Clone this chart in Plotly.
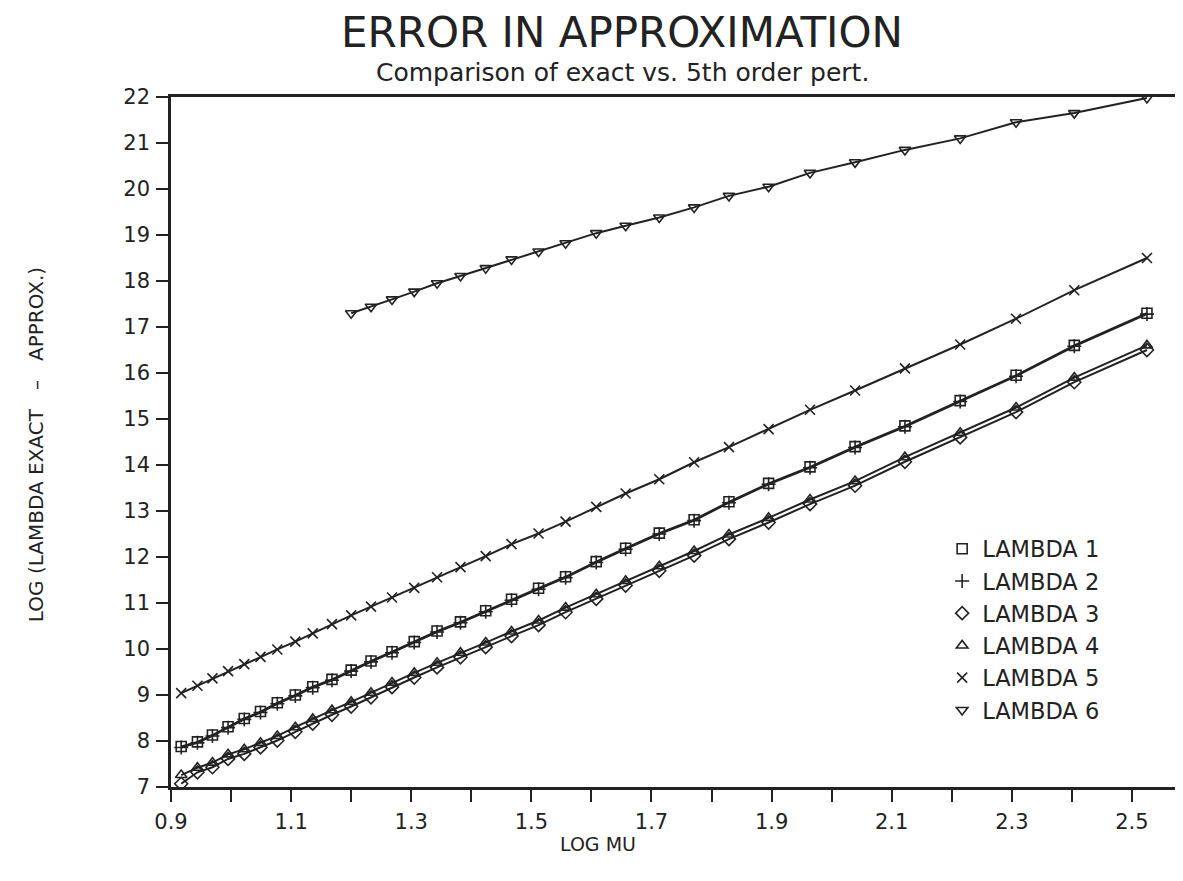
import plotly.graph_objects as go

# ---- data ----
log_mu = [0.917, 0.944, 0.969, 0.995, 1.022, 1.049, 1.077, 1.107, 1.136, 1.168,
          1.200, 1.233, 1.268, 1.305, 1.343, 1.382, 1.424, 1.467, 1.512, 1.557,
          1.608, 1.657, 1.713, 1.771, 1.829, 1.895, 1.964, 2.039, 2.122, 2.214,
          2.307, 2.404, 2.525]

lambda1 = [7.88, 7.98, 8.13, 8.31, 8.49, 8.64, 8.83, 9.00, 9.18, 9.34,
           9.54, 9.74, 9.94, 10.16, 10.39, 10.59, 10.83, 11.08, 11.32, 11.57,
           11.90, 12.19, 12.52, 12.81, 13.20, 13.60, 13.96, 14.40, 14.85, 15.40,
           15.95, 16.60, 17.30]

lambda2 = [7.86, 7.96, 8.11, 8.29, 8.47, 8.62, 8.81, 8.98, 9.16, 9.32,
           9.52, 9.72, 9.92, 10.14, 10.37, 10.57, 10.81, 11.06, 11.30, 11.55,
           11.88, 12.17, 12.50, 12.79, 13.18, 13.58, 13.94, 14.38, 14.83, 15.38,
           15.93, 16.58, 17.28]

lambda3 = [7.07, 7.32, 7.43, 7.61, 7.72, 7.86, 8.01, 8.20, 8.38, 8.57,
           8.75, 8.95, 9.17, 9.38, 9.60, 9.82, 10.04, 10.28, 10.52, 10.80,
           11.09, 11.38, 11.70, 12.03, 12.39, 12.75, 13.15, 13.55, 14.07, 14.60,
           15.15, 15.80, 16.50]

lambda4 = [7.26, 7.42, 7.53, 7.71, 7.82, 7.96, 8.11, 8.30, 8.48, 8.67,
           8.85, 9.05, 9.27, 9.48, 9.70, 9.92, 10.14, 10.38, 10.62, 10.90,
           11.19, 11.48, 11.80, 12.13, 12.49, 12.85, 13.25, 13.65, 14.17, 14.70,
           15.25, 15.90, 16.60]

lambda5 = [9.04, 9.20, 9.36, 9.52, 9.67, 9.83, 9.99, 10.16, 10.34, 10.54,
           10.73, 10.92, 11.12, 11.33, 11.56, 11.78, 12.02, 12.28, 12.51, 12.77,
           13.09, 13.38, 13.69, 14.06, 14.39, 14.78, 15.20, 15.62, 16.10, 16.62,
           17.18, 17.80, 18.50]

log_mu6 = [1.200, 1.233, 1.268, 1.305, 1.343, 1.382, 1.424, 1.467, 1.512, 1.557,
           1.608, 1.657, 1.713, 1.771, 1.829, 1.895, 1.964, 2.039, 2.122, 2.214,
           2.307, 2.404, 2.525]
lambda6 = [17.30, 17.44, 17.60, 17.77, 17.95, 18.11, 18.28, 18.47, 18.64, 18.82,
           19.04, 19.20, 19.38, 19.60, 19.85, 20.05, 20.35, 20.58, 20.85, 21.10,
           21.45, 21.65, 21.98]

series_names = ["LAMBDA 1", "LAMBDA 2", "LAMBDA 3", "LAMBDA 4", "LAMBDA 5", "LAMBDA 6"]
series_x = [log_mu, log_mu, log_mu, log_mu, log_mu, log_mu6]
series_y = [lambda1, lambda2, lambda3, lambda4, lambda5, lambda6]
symbols = ["square-open", "cross-thin-open", "diamond-open", "triangle-up-open",
           "x-thin-open", "triangle-down-open"]

x_ticks = [0.9, 1.1, 1.3, 1.5, 1.7, 1.9, 2.1, 2.3, 2.5]
y_ticks = list(range(7, 23))

FONT = "DejaVu Sans"
INK = "#222222"
NB = "\u00a0"

fig = go.Figure()

# connecting lines (no legend entries)
for xs, ys in zip(series_x, series_y):
    fig.add_trace(go.Scatter(x=xs, y=ys, mode="lines",
                             line=dict(color=INK, width=2),
                             showlegend=False, hoverinfo="skip"))

# markers (legend entries show symbol only)
for name, xs, ys, sym in zip(series_names, series_x, series_y, symbols):
    fig.add_trace(go.Scatter(x=xs, y=ys, mode="markers", name=name,
                             marker=dict(symbol=sym, size=10, color=INK,
                                         line=dict(color=INK, width=1.6))))

fig.update_layout(
    width=1175, height=873,
    margin=dict(l=163, r=0, t=89, b=94),
    paper_bgcolor="white", plot_bgcolor="white",
    font=dict(family=FONT, color=INK),
    showlegend=True,
    legend=dict(x=0.762, y=0.376, xanchor="left", yanchor="top",
                font=dict(family=FONT, size=22.5, color=INK),
                bgcolor="rgba(0,0,0,0)", borderwidth=0,
                tracegroupgap=0, itemwidth=30),
    xaxis=dict(range=[0.9, 2.585], tickmode="array", tickvals=x_ticks,
               ticktext=[f"{v:.1f}" for v in x_ticks],
               ticks="outside", ticklen=12, tickwidth=2, tickcolor=INK,
               minor=dict(dtick=0.1, tick0=0.9, ticks="outside", ticklen=12,
                          tickwidth=2, tickcolor=INK, showgrid=False),
               showline=True, linewidth=2.5, linecolor=INK, mirror=True,
               showgrid=False, zeroline=False,
               tickfont=dict(family=FONT, size=21, color=INK),
               ticklabelstandoff=2),
    yaxis=dict(range=[7, 22], tickmode="array", tickvals=y_ticks,
               ticks="outside", ticklen=12, tickwidth=2, tickcolor=INK,
               showline=True, linewidth=2.5, linecolor=INK,
               showgrid=False, zeroline=False,
               tickfont=dict(family=FONT, size=21, color=INK),
               ticklabelstandoff=2),
    annotations=[
        dict(text="ERROR IN APPROXIMATION", xref="paper", yref="paper",
             x=0.446, y=1.093, xanchor="center", yanchor="middle",
             showarrow=False, font=dict(family=FONT, size=42, color=INK)),
        dict(text="Comparison of exact vs. 5th order pert.", xref="paper", yref="paper",
             x=0.446, y=1.035, xanchor="center", yanchor="middle",
             showarrow=False, font=dict(family=FONT, size=25, color=INK)),
        dict(text="LOG MU", xref="paper", yref="paper",
             x=0.422, y=-0.083, xanchor="center", yanchor="middle",
             showarrow=False, font=dict(family=FONT, size=19, color=INK)),
        dict(text=f"LOG (LAMBDA EXACT {NB}{NB}\u2013{NB}{NB} APPROX.)",
             xref="paper", yref="paper",
             x=-0.134, y=0.496, xanchor="center", yanchor="middle", textangle=-90,
             showarrow=False, font=dict(family=FONT, size=20, color=INK)),
    ],
)

fig.write_html("out.html")
